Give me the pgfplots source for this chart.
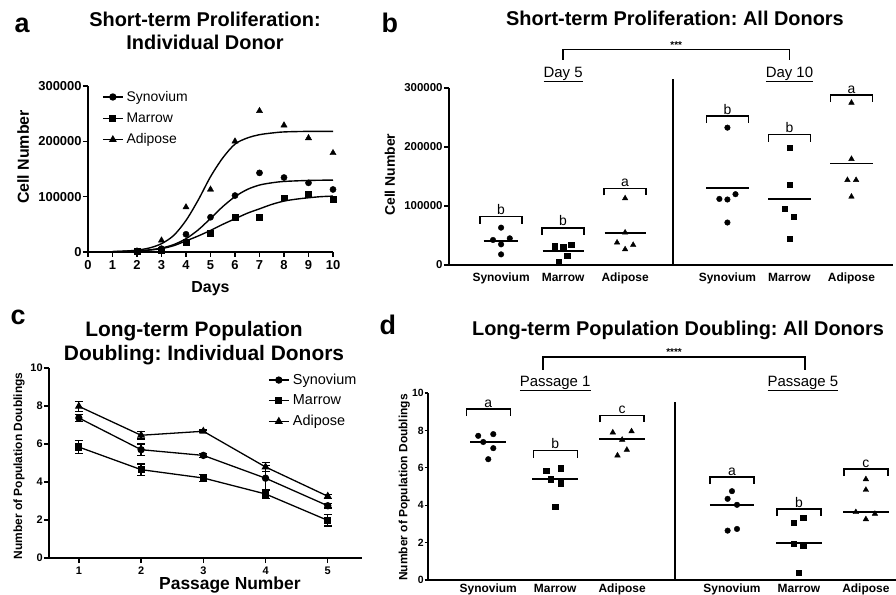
\documentclass[border=0pt]{standalone}
\usepackage{fontspec}
\setmainfont{Liberation Sans}
\usepackage{pgfplots}
\pgfplotsset{compat=1.18}
\frenchspacing

\newcommand\brk[4]{% x, y, halfwidth, letter
 \draw[line width=1.4pt] (axis cs:#1,#2) ++(-#3,-7bp) -- ++(0bp,7bp) -- ++(#3,0bp) -- ++(#3,0bp) -- ++(0bp,-7bp);
 \node[anchor=south, inner sep=1.5bp, font=\fontsize{14}{14}\selectfont] at (axis cs:#1,#2) {#4};}

\pgfplotsset{
 panel/.style={scale only axis, axis lines=left, axis line style={-, line width=1.6pt}, clip=false,
   tick style={line width=1.4pt, black}, tick align=outside, major tick length=5bp,
   /pgf/number format/assume math mode=true, scaled y ticks=false,
   ticklabel style={font=\bfseries\fontsize{12}{12}\selectfont},
   y tick label style={inner xsep=1.2bp},
   legend image code/.code={\draw[mark repeat=2,mark phase=2,##1] plot coordinates {(0bp,0bp) (10bp,0bp) (20bp,0bp)};}},
 pt/.style={only marks, black, mark size=2.8bp},
 mean/.style={black, line width=1.8pt, no marks},
}

\begin{document}
\begin{tikzpicture}
\useasboundingbox (0,0) rectangle (896bp,595bp);

%%%%%%%%%%%%%%%%%% panel a
\begin{axis}[panel, at={(88bp,343bp)}, anchor=south west, width=245bp, height=166bp,
  xmin=0, xmax=10, ymin=0, ymax=300000, xtick={0,...,10},
  ytick={0,100000,200000,300000}, yticklabels={0,100000,200000,300000},
  ticklabel style={font=\bfseries\fontsize{13}{13}\selectfont},
  xlabel={Days}, xlabel style={font=\bfseries\fontsize{16}{16}\selectfont, at={(axis description cs:0.5,-0.247)}, anchor=base},
  ylabel={Cell Number}, ylabel style={font=\bfseries\fontsize{16}{16}\selectfont, at={(axis description cs:-0.241,0.572)}, anchor=base},
  legend style={draw=none, fill=none, at={(0.045,0.994)}, anchor=north west, font=\fontsize{14}{16}\selectfont, row sep=6bp,
     nodes={inner xsep=3bp}},
  legend cell align=left]
\addlegendimage{black, line width=1.3pt, mark=*, mark size=3bp}
\addlegendentry{Synovium}
\addlegendimage{black, line width=1.3pt, mark=square*, mark size=2.8bp}
\addlegendentry{Marrow}
\addlegendimage{black, line width=1.3pt, mark=triangle*, mark size=3.3bp}
\addlegendentry{Adipose}
% fitted curves
\addplot[black, line width=1.4pt, smooth, no marks] coordinates {
 (1,700) (1.5,1600) (2,3400) (2.5,7200) (3,15000) (3.5,30000) (4,57000) (4.5,94000)
 (5,136000) (5.5,170000) (6,195000) (6.5,206000) (7,212000) (7.5,215000) (8,217000) (9,218000) (10,218000)};
\addplot[black, line width=1.4pt, smooth, no marks] coordinates {
 (1,500) (2,1900) (2.5,3800) (3,7100) (3.5,13400) (4,24000) (4.5,40000) (5,60600) (5.5,82000)
 (6,100000) (6.5,113000) (7,121000) (7.5,125000) (8,127500) (9,129300) (10,130000)};
\addplot[black, line width=1.4pt, smooth, no marks] coordinates {
 (1,500) (2,1800) (2.5,3500) (3,6000) (3.5,11500) (4,20000) (4.5,29000) (5,39000) (5.5,50000)
 (6,60000) (6.5,70000) (7,78000) (7.5,86000) (8,92000) (8.5,95500) (9,98000) (9.5,100000) (10,101000)};
% data points
\addplot[pt, mark=*, mark size=3.1bp] coordinates {(2,1000) (3,6000) (4,32000) (5,62800) (6,102000) (7,143000) (8,134600) (9,125000) (10,113000)};
\addplot[pt, mark=square*, mark size=2.9bp] coordinates {(2,800) (3,3000) (4,18000) (5,34000) (6,62800) (7,63000) (8,98000) (9,104000) (10,95000)};
\addplot[pt, mark=triangle*, mark size=3.6bp] coordinates {(2,1500) (3,21000) (4,81000) (5,113000) (6,200000) (7,255000) (8,229000) (9,206000) (10,179000)};
\end{axis}

%%%%%%%%%%%%%%%%%% panel b
\begin{axis}[panel, at={(449bp,330bp)}, anchor=south west, width=444bp, height=177bp,
  xmin=-0.84, xmax=6.32, ymin=0, ymax=300000,
  xtick={0,1,2,3.65,4.65,5.65}, xticklabels={Synovium,Marrow,Adipose,Synovium,Marrow,Adipose},
  xtick style={draw=none}, x tick label style={font=\bfseries\fontsize{12}{12}\selectfont, anchor=base, yshift=-12bp},
  ytick={0,100000,200000,300000}, yticklabels={0,100000,200000,300000},
  y tick label style={font=\bfseries\fontsize{11.5}{11.5}\selectfont},
  ylabel={Cell Number}, ylabel style={font=\bfseries\fontsize{14}{14}\selectfont, at={(axis description cs:-0.122,0.51)}, anchor=base}]
\addplot[pt, mark=*] coordinates {(0,63300) (-0.13,42400) (0,35000) (0.14,45200) (0,18000)};
\addplot[pt, mark=square*, mark size=2.6bp] coordinates {(0.87,32000) (1,30000) (1.13,34000) (1.065,16400) (0.93,5000)};
\addplot[pt, mark=triangle*, mark size=3.2bp] coordinates {(2,113000) (2,55000) (1.87,38000) (2.13,34000) (2,26500)};
\addplot[pt, mark=*] coordinates {(3.65,232800) (3.52,112000) (3.65,111000) (3.78,120000) (3.65,72000)};
\addplot[pt, mark=square*, mark size=2.6bp] coordinates {(4.65,199000) (4.65,136700) (4.575,96000) (4.715,82000) (4.65,44000)};
\addplot[pt, mark=triangle*, mark size=3.2bp] coordinates {(5.65,275000) (5.65,179700) (5.585,144000) (5.725,144000) (5.65,115800)};
\addplot[mean] coordinates {(-0.28,41000) (0.28,41000)};
\addplot[mean] coordinates {(0.67,23700) (1.33,23700)};
\addplot[mean] coordinates {(1.67,53700) (2.33,53700)};
\addplot[mean] coordinates {(3.31,130000) (3.99,130000)};
\addplot[mean] coordinates {(4.31,112000) (4.99,112000)};
\addplot[mean] coordinates {(5.31,172000) (5.99,172000)};
\brk{0}{82000}{21bp}{b}
\brk{1}{63000}{21bp}{b}
\brk{2}{130000}{21bp}{a}
\brk{3.65}{252500}{21bp}{b}
\brk{4.65}{221000}{21bp}{b}
\brk{5.65}{288000}{21bp}{a}
\draw[line width=1.8pt] (axis cs:2.77,0) -- (axis cs:2.77,315000);
\draw[line width=1.4pt] (axis cs:1,347500) -- (axis cs:1,365600) -- (axis cs:4.65,365600) -- (axis cs:4.65,347500);
\node[anchor=south, inner sep=1bp, font=\bfseries\fontsize{10}{10}\selectfont] at (axis cs:2.825,365600) {***};
\node[anchor=base, font=\fontsize{15}{15}\selectfont] at (axis cs:1,318600) {\underline{Day 5}};
\node[anchor=base, font=\fontsize{15}{15}\selectfont] at (axis cs:4.65,318600) {\underline{Day 10}};
\end{axis}

%%%%%%%%%%%%%%%%%% panel c
\begin{axis}[panel, at={(49bp,37bp)}, anchor=south west, width=313bp, height=190bp,
  xmin=0.52, xmax=5.55, ymin=0, ymax=10, xtick={1,...,5}, ytick={0,2,...,10},
  ticklabel style={font=\bfseries\fontsize{11}{11}\selectfont},
  xlabel={Passage Number}, xlabel style={font=\bfseries\fontsize{17.5}{17.5}\selectfont, at={(axis description cs:0.578,-0.168)}, anchor=base},
  ylabel={Number of Population Doublings}, ylabel style={font=\bfseries\fontsize{12}{12}\selectfont, at={(axis description cs:-0.086,0.484)}, anchor=base},
  legend style={draw=none, fill=none, at={(0.69,0.99)}, anchor=north west, font=\fontsize{14.5}{16}\selectfont, row sep=5bp,
     nodes={inner xsep=3.5bp}},
  legend cell align=left]
\addplot[black, line width=1.3pt, mark=*, mark size=3bp,
  error bars/.cd, y dir=both, y explicit, error bar style={line width=1.2pt}, error mark options={rotate=90, mark size=4bp, line width=1.2pt}]
  coordinates {(1,7.37) +- (0,0.2) (2,5.7) +- (0,0.3) (3,5.4) +- (0,0.1) (4,4.2) +- (0,0.65) (5,2.75) +- (0,0.12)};
\addlegendentry{Synovium}
\addplot[black, line width=1.3pt, mark=square*, mark size=2.9bp,
  error bars/.cd, y dir=both, y explicit, error bar style={line width=1.2pt}, error mark options={rotate=90, mark size=4bp, line width=1.2pt}]
  coordinates {(1,5.84) +- (0,0.35) (2,4.65) +- (0,0.3) (3,4.21) +- (0,0.18) (4,3.37) +- (0,0.25) (5,1.98) +- (0,0.3)};
\addlegendentry{Marrow}
\addplot[black, line width=1.3pt, mark=triangle*, mark size=3.4bp,
  error bars/.cd, y dir=both, y explicit, error bar style={line width=1.2pt}, error mark options={rotate=90, mark size=4bp, line width=1.2pt}]
  coordinates {(1,7.98) +- (0,0.25) (2,6.46) +- (0,0.2) (3,6.67) +- (0,0.07) (4,4.79) +- (0,0.25) (5,3.25) +- (0,0.1)};
\addlegendentry{Adipose}
\end{axis}

%%%%%%%%%%%%%%%%%% panel d
\begin{axis}[panel, at={(428bp,15bp)}, anchor=south west, width=468bp, height=187bp,
  xmin=-0.9, xmax=6.09, ymin=0, ymax=10, major tick length=3.5bp,
  xtick={0,1,2,3.64,4.64,5.64}, xticklabels={Synovium,Marrow,Adipose,Synovium,Marrow,Adipose},
  xtick style={draw=none}, x tick label style={font=\bfseries\fontsize{12}{12}\selectfont, anchor=base, yshift=-8.5bp},
  ytick={0,2,...,10}, y tick label style={font=\bfseries\fontsize{10.5}{10.5}\selectfont, inner xsep=0.6bp},
  ylabel={Number of Population Doublings}, ylabel style={font=\bfseries\fontsize{12}{12}\selectfont, at={(axis description cs:-0.044,0.495)}, anchor=base}]
\addplot[pt, mark=*] coordinates {(-0.15,7.71) (0.075,7.80) (-0.075,7.38) (0.075,7.05) (0,6.46)};
\addplot[pt, mark=square*, mark size=2.6bp] coordinates {(0.866,5.84) (1.08,5.98) (0.935,5.39) (1.08,5.18) (1,3.93)};
\addplot[pt, mark=triangle*, mark size=3.2bp] coordinates {(1.86,7.89) (2.14,7.95) (2,7.5) (2.07,6.96) (1.93,6.66)};
\addplot[pt, mark=*] coordinates {(3.575,4.34) (3.64,4.75) (3.715,4.02) (3.575,2.64) (3.715,2.73)};
\addplot[pt, mark=square*, mark size=2.6bp] coordinates {(4.565,3.07) (4.705,3.32) (4.565,1.96) (4.705,1.82) (4.64,0.41)};
\addplot[pt, mark=triangle*, mark size=3.2bp] coordinates {(5.64,5.39) (5.64,4.82) (5.49,3.63) (5.775,3.54) (5.64,3.25)};
\addplot[mean] coordinates {(-0.27,7.38) (0.27,7.38)};
\addplot[mean] coordinates {(0.66,5.39) (1.34,5.39)};
\addplot[mean] coordinates {(1.66,7.54) (2.34,7.54)};
\addplot[mean] coordinates {(3.31,4.02) (3.97,4.02)};
\addplot[mean] coordinates {(4.3,1.96) (4.98,1.96)};
\addplot[mean] coordinates {(5.3,3.64) (5.98,3.64)};
\brk{0}{9.14}{22bp}{a}
\brk{1}{6.91}{22bp}{b}
\brk{2}{8.8}{22bp}{c}
\brk{3.64}{5.5}{22bp}{a}
\brk{4.64}{3.8}{22bp}{b}
\brk{5.64}{5.93}{22bp}{c}
\draw[line width=1.8pt] (axis cs:2.79,0) -- (axis cs:2.79,9.52);
\draw[line width=1.4pt] (axis cs:0.82,11.23) -- (axis cs:0.82,11.93) -- (axis cs:4.73,11.93) -- (axis cs:4.73,11.23);
\node[anchor=south, inner sep=1bp, font=\bfseries\fontsize{10}{10}\selectfont] at (axis cs:2.775,11.93) {****};
\node[anchor=base, font=\fontsize{15}{15}\selectfont] at (axis cs:1,10.37) {\underline{Passage 1}};
\node[anchor=base, font=\fontsize{15}{15}\selectfont] at (axis cs:4.7,10.37) {\underline{Passage 5}};
\end{axis}

%%%%%%%%%%%%%%%%%% titles and panel letters
\node[anchor=base west, font=\bfseries\fontsize{27}{27}\selectfont] at (11bp,562bp) {a};
\node[anchor=base, font=\bfseries\fontsize{20}{20}\selectfont] at (205bp,568bp) {Short-term Proliferation:};
\node[anchor=base, font=\bfseries\fontsize{20}{20}\selectfont] at (205bp,545bp) {Individual Donor};
\node[anchor=base west, font=\bfseries\fontsize{27}{27}\selectfont] at (378bp,562bp) {b};
\node[anchor=base, font=\bfseries\fontsize{20}{20}\selectfont] at (675bp,569bp) {Short-term Proliferation: All Donors};
\node[anchor=base west, font=\bfseries\fontsize{27}{27}\selectfont] at (7bp,270bp) {c};
\node[anchor=base, font=\bfseries\fontsize{21}{21}\selectfont] at (194bp,258bp) {Long-term Population};
\node[anchor=base, font=\bfseries\fontsize{21}{21}\selectfont] at (204bp,234bp) {Doubling: Individual Donors};
\node[anchor=base west, font=\bfseries\fontsize{27}{27}\selectfont] at (376bp,260bp) {d};
\node[anchor=base, font=\bfseries\fontsize{20}{20}\selectfont] at (678bp,259bp) {Long-term Population Doubling: All Donors};
\end{tikzpicture}
\end{document}
